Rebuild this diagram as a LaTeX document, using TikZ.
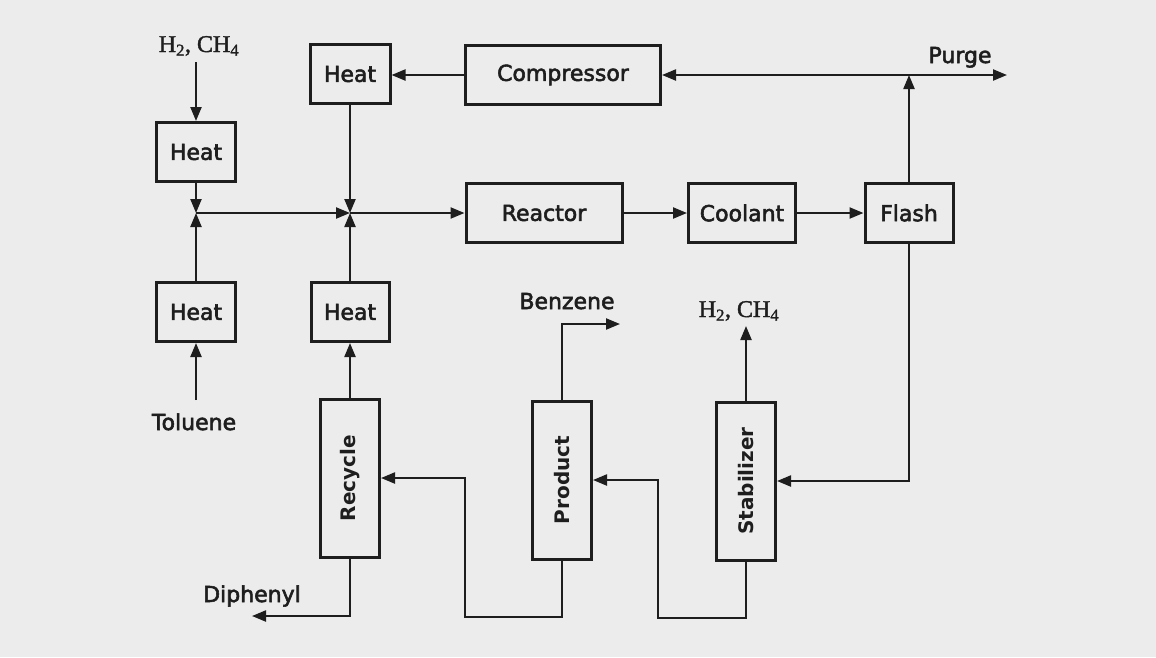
\documentclass[tikz,border=0pt]{standalone}
\usepackage{fontspec}
\setsansfont{DejaVu Sans}
\newfontfamily\unitfont{DejaVu Sans}[FakeBold=2.5]
\newfontfamily\chemfont{Liberation Serif}[FakeBold=1.5]
\usetikzlibrary{arrows.meta}
\definecolor{ink}{HTML}{1E1E1E}
\definecolor{paper}{HTML}{ECECEC}

\begin{document}
\begin{tikzpicture}[x=1pt, y=-1pt,
    every node/.style={font=\unitfont\fontsize{22}{26}\selectfont, text=ink},
    unit/.style={draw=ink, line width=3pt, minimum height=59pt, inner sep=0pt},
    column/.style={unit, minimum width=59pt, minimum height=158pt,
                   font=\sffamily\bfseries\fontsize{20}{24}\selectfont},
    flow/.style={draw=ink, line width=2.2pt, -{Triangle[length=14pt,width=11pt]}},
    gas/.style={font=\chemfont\fontsize{24}{28}\selectfont}]
    % page
    \fill[paper] (0,0) rectangle (1156,657);
    \useasboundingbox (0,0) rectangle (1156,657);

    % units
    \node[unit, minimum width=79pt] (heatA) at (196,152) {Heat};
    \node[unit, minimum width=80pt] (heatB) at (350,74) {Heat};
    \node[unit, minimum width=195pt] (comp) at (563,75) {Compressor};
    \node[unit, minimum width=156pt] (reactor) at (544,213) {Reactor};
    \node[unit, minimum width=107pt] (coolant) at (742,213) {Coolant};
    \node[unit, minimum width=88pt] (flash) at (909,213) {Flash};
    \node[unit, minimum width=79pt] (heatC) at (196,312) {Heat};
    \node[unit, minimum width=78pt] (heatD) at (350,312) {Heat};
    \node[column] (recycle) at (350,478) {\rotatebox{90}{Recycle}};
    \node[column] (product) at (562,480) {\rotatebox{90}{Product}};
    \node[column] (stab) at (746,481) {\rotatebox{90}{Stabilizer}};

    % streams
    \node[gas, anchor=base] (h2in) at (199,52) {H\textsubscript{2}, CH\textsubscript{4}};
    \node[anchor=base] (toluene) at (194,430) {Toluene};
    \node[anchor=base] (diphenyl) at (252,602) {Diphenyl};
    \node[anchor=base] (benzene) at (567,309) {Benzene};
    \node[gas, anchor=base] (h2out) at (739,317) {H\textsubscript{2}, CH\textsubscript{4}};
    \node[anchor=base] (purge) at (960,63) {Purge};

    \coordinate (feedH2) at (196,62);
    \coordinate (feedTol) at (196,400);
    \coordinate (jL) at (196,213);
    \coordinate (jR) at (350,213);
    \coordinate (split) at (909,75);
    \coordinate (purgeEnd) at (1007,75);
    \coordinate (benzEnd) at (620,324);
    \coordinate (offH2) at (746,326);
    \coordinate (diphEnd) at (252,616);
    \coordinate (loopA) at (465,617);
    \coordinate (loopB) at (658,618);

    % connections
    \draw[flow] (feedH2) -- (heatA.north);
    \draw[flow] (feedTol) -- (heatC.south);
    \draw[flow] (heatA.south) -- (jL);
    \draw[flow] (heatC.north) -- (jL);
    \draw[flow] (jL) -- (jR);
    \draw[flow] (heatB.south) -- (jR);
    \draw[flow] (heatD.north) -- (jR);
    \draw[flow] (jR) -- (reactor.west);
    \draw[flow] (comp.west) -- (comp.west -| heatB.east);
    \draw[flow] (reactor) -- (coolant);
    \draw[flow] (coolant) -- (flash);
    \draw[flow] (flash.north) -- (split);
    \draw[flow] (split) -- (comp.east);
    \draw[flow] (split) -- (purgeEnd);
    \draw[flow] (flash.south) |- (stab.east);
    \draw[flow] (stab.north) -- (offH2);
    \draw[flow] (stab.south) |- (loopB) |- (product.east);
    \draw[flow] (product.north) |- (benzEnd);
    \draw[flow] (product.south) |- (loopA) |- (recycle.east);
    \draw[flow] (recycle.south) |- (diphEnd);
    \draw[flow] (recycle.north) -- (heatD.south);
\end{tikzpicture}
\end{document}
